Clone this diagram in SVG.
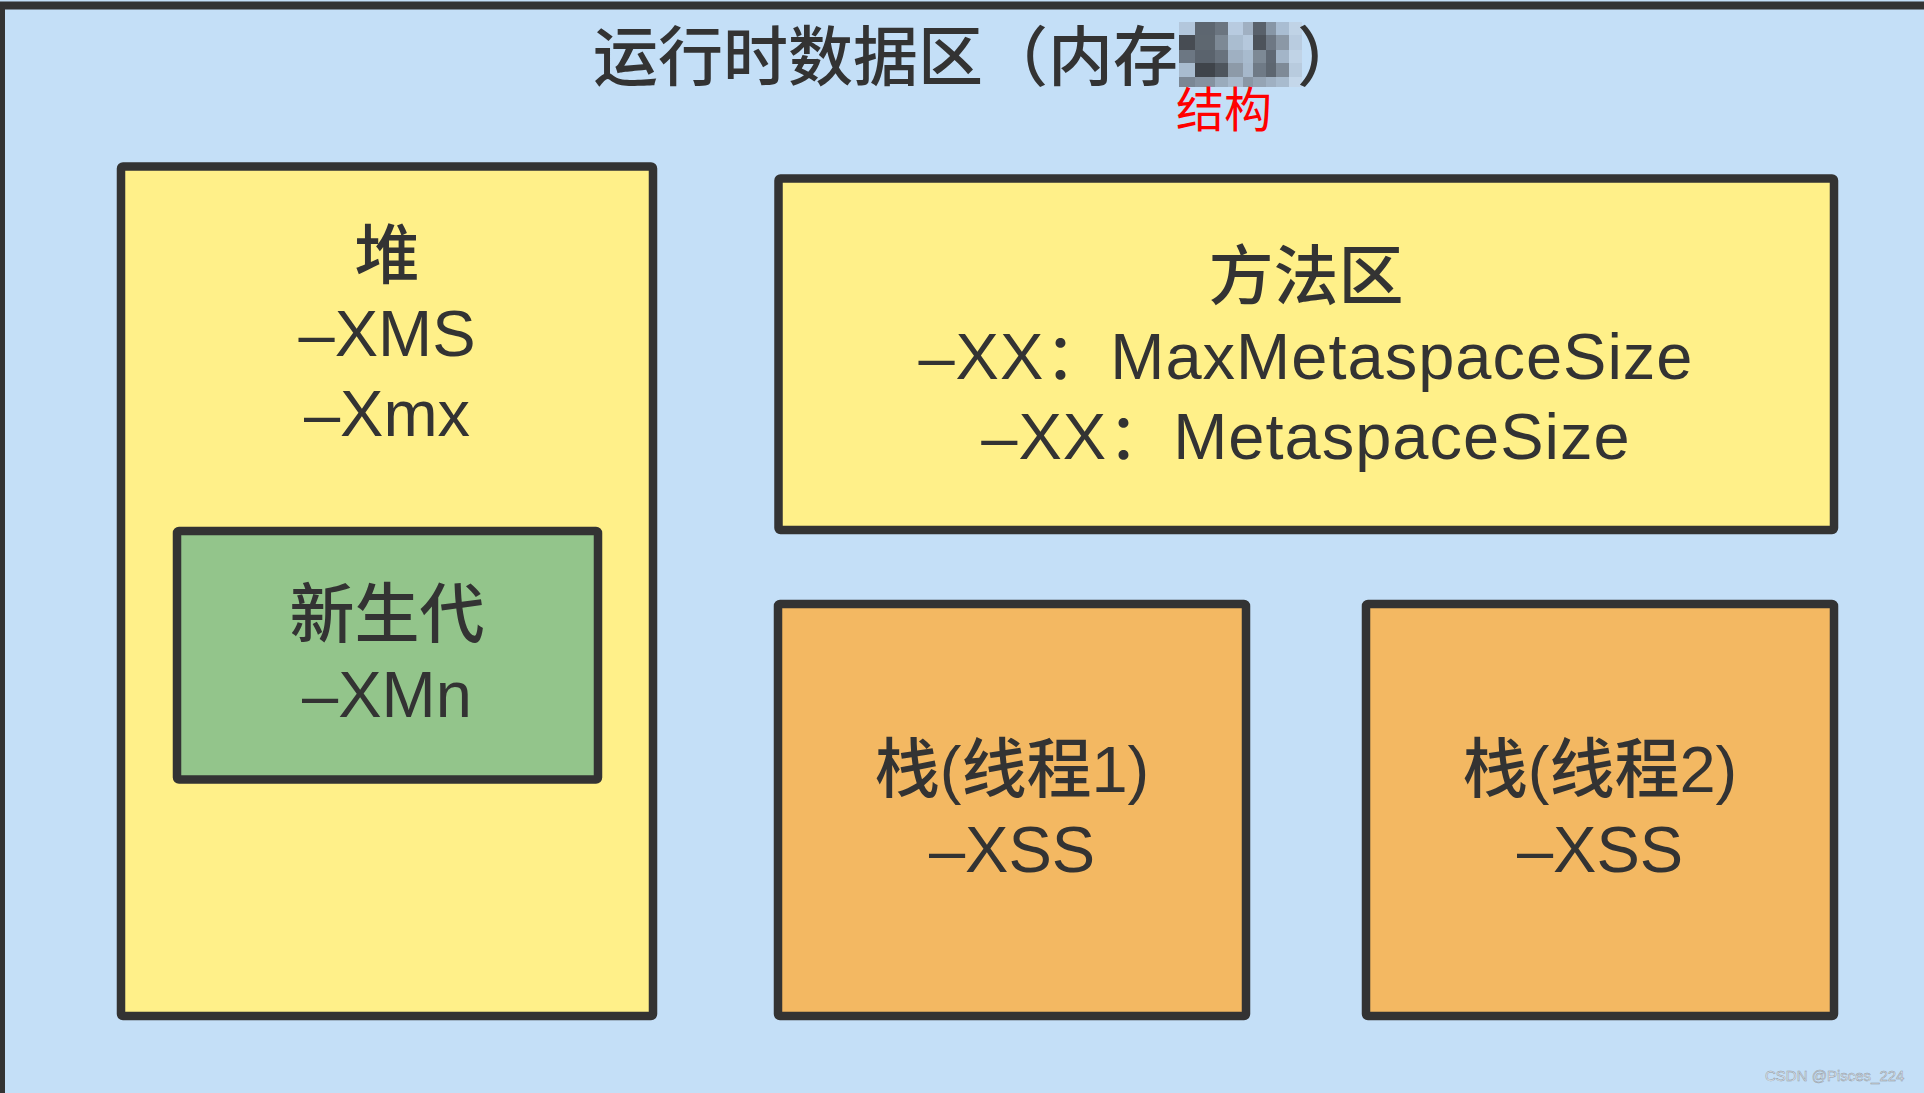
<svg xmlns="http://www.w3.org/2000/svg" width="1924" height="1093" viewBox="0 0 1924 1093">
<style>
.box{stroke:#333333;stroke-width:8.5;}
.yellow{fill:#FFF089;}
.green{fill:#93C58B;}
.orange{fill:#F3B862;}
.t{font-family:"Liberation Sans","Noto Sans CJK SC",sans-serif;font-size:65px;fill:#333333;text-anchor:middle;}
.cjk{font-family:"Noto Sans CJK SC","Liberation Sans",sans-serif;font-weight:500;}
.title{font-family:"Noto Sans CJK SC",sans-serif;font-size:65px;font-weight:500;fill:#333333;}
.red{font-family:"Noto Sans CJK SC",sans-serif;font-size:48px;fill:#FF0000;}
.wm{font-family:"Liberation Sans",sans-serif;font-size:15px;fill:#e9edf2;stroke:#8e98a3;stroke-width:0.5;}
.wide{letter-spacing:1px;}
</style>
<rect x="0" y="0" width="1924" height="1093" fill="#C4DFF7"/>
<g id="runtime-data-area">
<rect x="1" y="5.5" width="1940" height="1110" fill="#C4DFF7" stroke="#333333" stroke-width="8"/>
<text class="title" x="593" y="80">运行时数据区（内存</text>
<g id="mosaic">
<rect x="1179" y="22" width="16" height="13" fill="#b3c7dc"/><rect x="1195" y="22" width="20" height="13" fill="#5d6670"/><rect x="1215" y="22" width="13" height="13" fill="#6b7580"/><rect x="1228" y="22" width="15" height="13" fill="#b8cbe0"/><rect x="1243" y="22" width="10" height="13" fill="#a0b0c2"/><rect x="1253" y="22" width="13" height="13" fill="#59616b"/><rect x="1266" y="22" width="10" height="13" fill="#8796a6"/><rect x="1276" y="22" width="13" height="13" fill="#a9bdd2"/><rect x="1289" y="22" width="13" height="13" fill="#c0d3e6"/>
<rect x="1179" y="35" width="16" height="15" fill="#474c53"/><rect x="1195" y="35" width="20" height="15" fill="#5e6770"/><rect x="1215" y="35" width="13" height="15" fill="#7d8995"/><rect x="1228" y="35" width="15" height="15" fill="#aabdd0"/><rect x="1243" y="35" width="10" height="15" fill="#b5c8dc"/><rect x="1253" y="35" width="13" height="15" fill="#4d535b"/><rect x="1266" y="35" width="10" height="15" fill="#6e7884"/><rect x="1276" y="35" width="13" height="15" fill="#8b98a6"/><rect x="1289" y="35" width="13" height="15" fill="#b9cce0"/>
<rect x="1179" y="50" width="16" height="13" fill="#6c7783"/><rect x="1195" y="50" width="20" height="13" fill="#5a636d"/><rect x="1215" y="50" width="13" height="13" fill="#68727d"/><rect x="1228" y="50" width="15" height="13" fill="#9fb0c2"/><rect x="1243" y="50" width="10" height="13" fill="#a8bbce"/><rect x="1253" y="50" width="13" height="13" fill="#7d8995"/><rect x="1266" y="50" width="10" height="13" fill="#5f6873"/><rect x="1276" y="50" width="13" height="13" fill="#a3b5c8"/><rect x="1289" y="50" width="13" height="13" fill="#c0d3e6"/>
<rect x="1179" y="63" width="16" height="14" fill="#a9bccf"/><rect x="1195" y="63" width="20" height="14" fill="#3f444a"/><rect x="1215" y="63" width="13" height="14" fill="#4e555d"/><rect x="1228" y="63" width="15" height="14" fill="#8d9aa8"/><rect x="1243" y="63" width="10" height="14" fill="#a6b8cb"/><rect x="1253" y="63" width="13" height="14" fill="#6f7a86"/><rect x="1266" y="63" width="10" height="14" fill="#5d6670"/><rect x="1276" y="63" width="13" height="14" fill="#7e8a97"/><rect x="1289" y="63" width="13" height="14" fill="#b8cbde"/>
<rect x="1179" y="77" width="16" height="10" fill="#7b8794"/><rect x="1195" y="77" width="20" height="10" fill="#8592a0"/><rect x="1215" y="77" width="13" height="10" fill="#9aabbc"/><rect x="1228" y="77" width="15" height="10" fill="#a7b9cc"/><rect x="1243" y="77" width="10" height="10" fill="#8a97a5"/><rect x="1253" y="77" width="13" height="10" fill="#95a4b4"/><rect x="1266" y="77" width="10" height="10" fill="#9fb0c2"/><rect x="1276" y="77" width="13" height="10" fill="#a8bbce"/><rect x="1289" y="77" width="13" height="10" fill="#c4d7ea"/>
</g>
<text class="title" x="1297" y="80">）</text>
<text class="red" x="1176" y="127">结构</text>
</g>
<g id="heap">
<rect class="box yellow" x="121" y="166.5" width="532" height="849.5" rx="2"/>
<text class="t" x="387" y="278"><tspan class="cjk">堆</tspan></text>
<text class="t" x="387" y="356">–XMS</text>
<text class="t" x="387" y="436">–Xmx</text>
</g>
<g id="young-gen">
<rect class="box green" x="177" y="531" width="421" height="248.5" rx="2"/>
<text class="t" x="387" y="637"><tspan class="cjk">新生代</tspan></text>
<text class="t" x="387" y="717">–XMn</text>
</g>
<g id="method-area">
<rect class="box yellow" x="778.5" y="178.5" width="1055.5" height="351.5" rx="2"/>
<text class="t" x="1306" y="299"><tspan class="cjk">方法区</tspan></text>
<text class="t wide" x="1306" y="379">–XX：MaxMetaspaceSize</text>
<text class="t wide" x="1306" y="459">–XX：MetaspaceSize</text>
</g>
<g id="stack-1">
<rect class="box orange" x="778" y="604" width="468" height="412" rx="2"/>
<text class="t" x="1012" y="792"><tspan class="cjk">栈</tspan>(<tspan class="cjk">线程</tspan>1)</text>
<text class="t" x="1012" y="872">–XSS</text>
</g>
<g id="stack-2">
<rect class="box orange" x="1366" y="604" width="468" height="412" rx="2"/>
<text class="t" x="1600" y="792"><tspan class="cjk">栈</tspan>(<tspan class="cjk">线程</tspan>2)</text>
<text class="t" x="1600" y="872">–XSS</text>
</g>
<g id="connectors"/>
<text class="wm" x="1765" y="1081">CSDN @Pisces_224</text>
</svg>
